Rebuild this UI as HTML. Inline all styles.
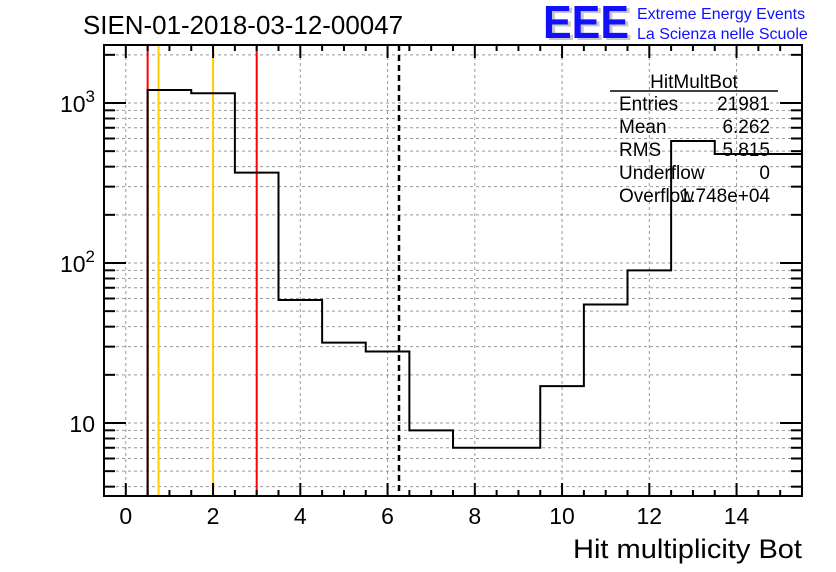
<!DOCTYPE html>
<html><head><meta charset="utf-8">
<style>
html,body{margin:0;padding:0;background:#fff;}
svg{display:block;font-family:"Liberation Sans",Arial,sans-serif;}
</style></head>
<body>
<svg id="chart" width="836" height="572" viewBox="0 0 836 572">
<text x="83" y="34" font-size="26" fill="#000" textLength="320" lengthAdjust="spacingAndGlyphs">SIEN-01-2018-03-12-00047</text>
<g>
<text x="546" y="40" font-size="46" font-weight="bold" fill="#c8c8c8" textLength="86" lengthAdjust="spacingAndGlyphs">EEE</text>
<text x="543" y="38" font-size="46" font-weight="bold" fill="#1010ff" textLength="86" lengthAdjust="spacingAndGlyphs">EEE</text>
<text x="637" y="19" font-size="16" fill="#1010ff">Extreme Energy Events</text>
<text x="637" y="39" font-size="16" fill="#1010ff">La Scienza nelle Scuole</text>
</g>
<g id="grid"></g>
<g id="marks"></g>
<g id="axes"></g>
<g font-size="19" fill="#000">
<text x="694" y="88" text-anchor="middle">HitMultBot</text>
<line x1="610" y1="91" x2="778" y2="91" stroke="#000" stroke-width="1.5"/>
<text x="619" y="110">Entries</text><text x="770" y="110" text-anchor="end">21981</text>
<text x="619" y="133">Mean</text><text x="770" y="133" text-anchor="end">6.262</text>
<text x="619" y="156">RMS</text><text x="770" y="156" text-anchor="end">5.815</text>
<text x="619" y="179">Underflow</text><text x="770" y="179" text-anchor="end">0</text>
<text x="619" y="202">Overflow</text><text x="770" y="202" text-anchor="end">1.748e+04</text>
</g>
<text x="802" y="558" font-size="27" text-anchor="end" textLength="229" lengthAdjust="spacingAndGlyphs">Hit multiplicity Bot</text>
</svg>
<script>
const binEdges=[-0.5,0.5,1.5,2.5,3.5,4.5,5.5,6.5,7.5,8.5,9.5,10.5,11.5,12.5,13.5,14.5,15.5];
const binCounts=[0,1206,1150,367,58.7,31.8,28,9,7,7,17,55,90,579,480,480];
const xTicks=[0,2,4,6,8,10,12,14];
const yMajor=[10,100,1000];
const yMajorLabels=["10","10²","10³"];
const redLines=[0.5,3.0];
const orangeLines=[0.75,2.0];
const meanValue=6.262;

const L=104,R=802,T=45,B=496;
const X=v=>L+(v+0.5)*(R-L)/16;
const Y=v=>103-(Math.log10(v)-3)*160;
const NS="http://www.w3.org/2000/svg";
function mk(parent,tag,attrs){const e=document.createElementNS(NS,tag);for(const k in attrs)e.setAttribute(k,attrs[k]);document.getElementById(parent).appendChild(e);return e;}

xTicks.forEach(v=>{
  const e=mk('grid','line',{x1:X(v),x2:X(v),y1:T,y2:B,stroke:'#999','stroke-dasharray':'3,3'});
  
  
});
const yMinorVals=[];
for(let d=1;d<=1000;d*=10)for(let m=1;m<10;m++){const v=d*m;const y=Y(v);if(y>T&&y<B)yMinorVals.push(v);}
yMinorVals.forEach(v=>{
  const e=mk('grid','line',{x1:L,x2:R,y1:Y(v),y2:Y(v),stroke:'#999','stroke-dasharray':'3,3'});
  
  
});

redLines.forEach(v=>{
  const e=mk('marks','line',{x1:X(v),x2:X(v),y1:T,y2:B,stroke:'#ff0000','stroke-width':2});
  
  
});
orangeLines.forEach(v=>{
  const e=mk('marks','line',{x1:X(v),x2:X(v),y1:T,y2:B,stroke:'#ffcc00','stroke-width':2});
  
  
});
const ml=mk('marks','line',{x1:X(meanValue),x2:X(meanValue),y1:T,y2:B,stroke:'#000','stroke-width':2.5,'stroke-dasharray':'6,4'});



let d='';let started=false;
for(let i=0;i<binCounts.length;i++){
  const c=binCounts[i];
  if(c<=0){continue;}
  const y=Math.max(T,Math.min(B,Y(c)));
  const x0=X(binEdges[i]),x1=X(binEdges[i+1]);
  if(!started){d+='M'+x0+','+B+' L'+x0+','+y;started=true;}
  else d+=' L'+x0+','+y;
  d+=' L'+x1+','+y;
}
const hp=mk('marks','path',{d:d,fill:'none',stroke:'#000','stroke-width':2});



const fr=mk('axes','rect',{x:L,y:T,width:R-L,height:B-T,fill:'none',stroke:'#000','stroke-width':2});


for(let v=-0.5;v<=15.5;v+=0.5){
  const maj=Math.abs(v%2)<1e-9;
  const len=maj?13:6;
  mk('axes','line',{x1:X(v),x2:X(v),y1:B,y2:B-len,stroke:'#000','stroke-width':2});
  mk('axes','line',{x1:X(v),x2:X(v),y1:T,y2:T+len,stroke:'#000','stroke-width':2});
}
xTicks.forEach(v=>{
  const t=mk('axes','text',{x:X(v),y:524,'font-size':23,'text-anchor':'middle'});
  t.textContent=v;
  
  
});
yMinorVals.forEach(v=>{
  const maj=yMajor.includes(v);
  const len=maj?22:11;
  mk('axes','line',{x1:L,x2:L+len,y1:Y(v),y2:Y(v),stroke:'#000','stroke-width':2});
  mk('axes','line',{x1:R,x2:R-len,y1:Y(v),y2:Y(v),stroke:'#000','stroke-width':2});
});
yMajor.forEach((v,i)=>{
  const t=mk('axes','text',{x:95,y:Y(v)+9,'font-size':23,'text-anchor':'end'});
  const lab=yMajorLabels[i];
  if(lab.length>2){
    t.textContent=lab.slice(0,2);
    const s=document.createElementNS(NS,'tspan');
    s.setAttribute('dy','-10');s.setAttribute('font-size','17');
    s.textContent=lab.slice(2)==='²'?'2':'3';
    t.appendChild(s);
  } else t.textContent=lab;
  
  
});
</script>
</body></html>
